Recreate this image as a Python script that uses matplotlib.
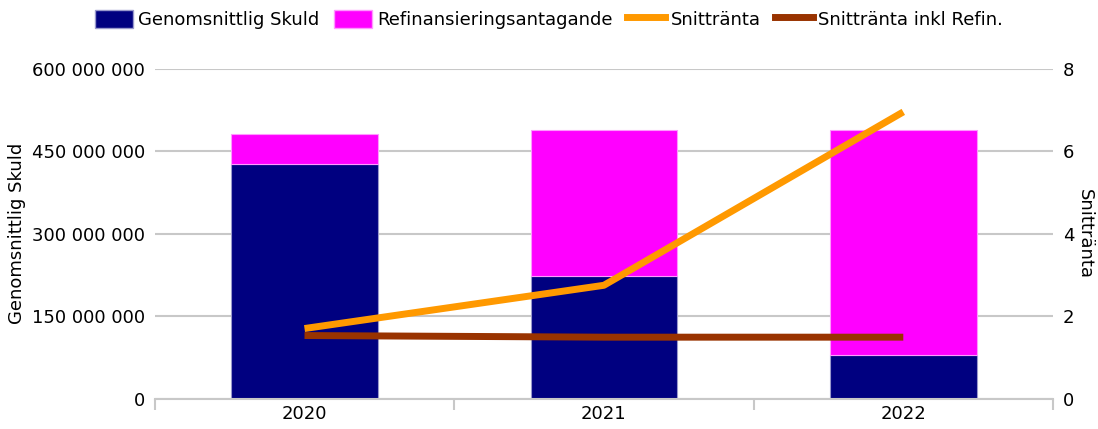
import matplotlib.pyplot as plt
import numpy as np
from matplotlib.ticker import FuncFormatter
from matplotlib.lines import Line2D
from matplotlib.patches import Patch

# data
years = ["2020", "2021", "2022"]
skuld = [427e6, 224e6, 80e6]
refin = [54e6, 265e6, 409e6]
snittranta = [1.70, 2.75, 6.96]
snittranta_refin = [1.53, 1.49, 1.49]

navy = "#000080"
magenta = "#ff00ff"
orange = "#ff9900"
brown = "#993300"
grid_col = "#c8c8c8"


def fmt_space(v, pos):
    return "{:,.0f}".format(v).replace(",", " ")


fig = plt.figure(figsize=(10.98, 4.29), dpi=100)
ax = fig.add_axes([0.141, 0.071, 0.818, 0.768])
x = np.arange(len(years))

ax.bar(x, skuld, width=0.49, color=navy, edgecolor="#9999cc", linewidth=0.8, zorder=2)
ax.bar(x, refin, width=0.49, bottom=skuld, color=magenta, edgecolor="#ff99ff",
       linewidth=0.8, zorder=2)

ax.set_xlim(-0.5, 2.5)
ax.set_ylim(0, 600e6)
ax.set_yticks([0, 150e6, 300e6, 450e6, 600e6])
ax.yaxis.set_major_formatter(FuncFormatter(fmt_space))
ax.grid(axis="y", color=grid_col, linewidth=1.5, zorder=0)
ax.set_axisbelow(True)
for s in ["top", "left", "right"]:
    ax.spines[s].set_visible(False)
ax.spines["bottom"].set_color(grid_col)
ax.spines["bottom"].set_linewidth(1.5)
ax.tick_params(axis="y", length=0, labelsize=13, pad=7)
ax.set_xticks(x)
ax.set_xticklabels(years)
ax.set_xticks([-0.5, 0.5, 1.5, 2.5], minor=True)
ax.tick_params(axis="x", which="major", length=0, labelsize=13, pad=5)
ax.tick_params(axis="x", which="minor", length=8, width=1.5, color=grid_col)
ax.set_ylabel("Genomsnittlig Skuld", fontsize=13, labelpad=4)

ax2 = ax.twinx()
ax2.plot(x, snittranta, color=orange, linewidth=5, solid_capstyle="butt", zorder=3)
ax2.plot(x, snittranta_refin, color=brown, linewidth=5, solid_capstyle="butt", zorder=3)
ax2.set_ylim(0, 8)
ax2.set_yticks([0, 2, 4, 6, 8])
for s in ["top", "left", "right", "bottom"]:
    ax2.spines[s].set_visible(False)
ax2.tick_params(axis="y", length=0, labelsize=13, pad=7)
ax2.set_ylabel("Snittränta", fontsize=13, rotation=270, labelpad=14)

handles = [
    Patch(facecolor=navy, edgecolor="#9999cc", label="Genomsnittlig Skuld"),
    Patch(facecolor=magenta, edgecolor="#ff99ff", label="Refinansieringsantagande"),
    Line2D([0], [0], color=orange, linewidth=5, label="Snittränta"),
    Line2D([0], [0], color=brown, linewidth=5, label="Snittränta inkl Refin."),
]
fig.legend(handles=handles, loc="upper center", bbox_to_anchor=(0.5, 1.015), ncol=4,
           frameon=False, fontsize=13, handlelength=2.1, handleheight=1.2,
           columnspacing=0.8, handletextpad=0.3)

fig.savefig("out.png", dpi=100)
